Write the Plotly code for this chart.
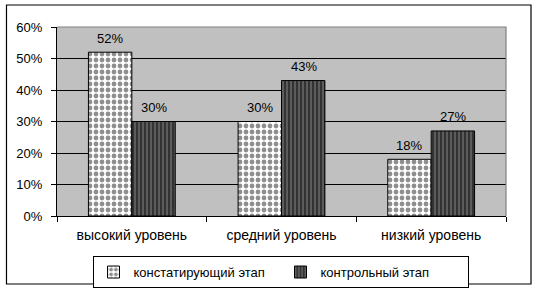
import plotly.graph_objects as go

categories = ["высокий уровень", "средний уровень", "низкий уровень"]
series_names = ["констатирующий этап", "контрольный этап"]
stage1 = [52, 30, 18]
stage2 = [30, 43, 27]
y_ticks = [0, 10, 20, 30, 40, 50, 60]
y_tick_labels = [f"{v}%" for v in y_ticks]

FONT = "Liberation Sans, Arial, sans-serif"

fig = go.Figure()
fig.add_trace(go.Bar(
    x=categories, y=stage1, name=series_names[0],
    marker=dict(color="white", line=dict(color="black", width=1),
                pattern=dict(shape=".", fgcolor="#202020", bgcolor="white",
                             size=6, solidity=0.5)),
))
fig.add_trace(go.Bar(
    x=categories, y=stage2, name=series_names[1],
    marker=dict(color="#333333", line=dict(color="black", width=1),
                pattern=dict(shape="|", fgcolor="white", bgcolor="#333333",
                             size=4, solidity=0.2)),
))

# value labels above bars
for vals, shift in ((stage1, -22), (stage2, 22)):
    for c, v in zip(categories, vals):
        fig.add_annotation(x=c, y=v, text=f"{v}%", showarrow=False,
                           xshift=shift, yshift=14, yanchor="middle",
                           font=dict(family=FONT, size=13, color="black"))

# plot area gray border (top & right)
fig.add_shape(type="path", xref="paper", yref="paper",
              path="M 0,1 L 1,1 L 1,0", line=dict(color="#808080", width=1.2),
              layer="above")
# outer chart border
fig.add_shape(type="rect", xref="paper", yref="paper",
              x0=-0.1125, x1=1.0557, y0=-0.3598, y1=1.1164,
              line=dict(color="black", width=1.2), layer="above")

fig.update_layout(
    width=540, height=290,
    margin=dict(l=57, r=34, t=27, b=74, autoexpand=False),
    paper_bgcolor="white", plot_bgcolor="#C0C0C0",
    barmode="group", bargap=0.42, bargroupgap=0,
    font=dict(family=FONT, size=13, color="black"),
    showlegend=True,
    legend=dict(orientation="h", x=0.4978, xanchor="center",
                yref="container", y=0.117, yanchor="top",
                bgcolor="white", bordercolor="black",
                borderwidth=1, font=dict(family=FONT, size=13),
                itemwidth=30, tracegroupgap=0, entrywidth=142,
                entrywidthmode="pixels"),
)
fig.update_xaxes(showline=True, linecolor="black", linewidth=1,
                 ticks="outside", ticklen=5, tickcolor="black",
                 tickson="boundaries", showgrid=False,
                 tickfont=dict(family=FONT, size=14), ticklabelstandoff=6)
fig.update_yaxes(range=[0, 60], tickvals=y_ticks, ticktext=y_tick_labels,
                 showline=True, linecolor="black", linewidth=1,
                 ticks="outside", ticklen=5, tickcolor="black",
                 showgrid=True, gridcolor="black", gridwidth=1,
                 zeroline=False, tickfont=dict(family=FONT, size=13),
                 ticklabelstandoff=6)

fig.write_html("out.html")
